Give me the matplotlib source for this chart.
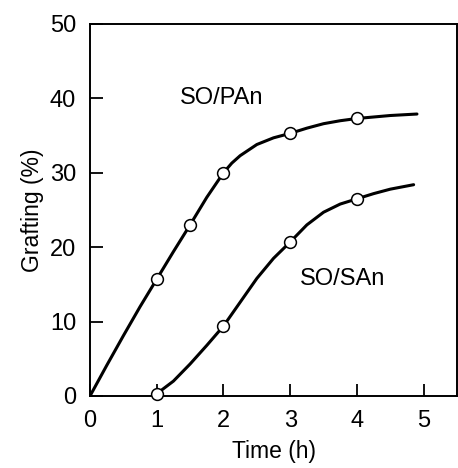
import matplotlib
matplotlib.use("Agg")
import matplotlib.pyplot as plt

plt.rcParams['font.family'] = ['Liberation Sans', 'DejaVu Sans']

# Measured points (markers)
pan_t = [1.0, 1.5, 2.0, 3.0, 4.0]
pan_g = [15.7, 23.0, 30.0, 35.3, 37.3]
san_t = [1.0, 2.0, 3.0, 4.0]
san_g = [0.3, 9.4, 20.7, 26.5]

# Drawn trend curves
pan_curve_t = [0.0, 0.25, 0.5, 0.75, 1.0, 1.25, 1.5, 1.75, 2.0, 2.125, 2.25, 2.5, 2.75,
               3.0, 3.25, 3.5, 3.75, 4.0, 4.25, 4.5, 4.9]
pan_curve_g = [0.0, 4.1, 8.1, 12.0, 15.7, 19.4, 23.0, 26.7, 30.0, 31.3, 32.3, 33.8, 34.7,
               35.3, 36.0, 36.6, 37.0, 37.3, 37.5, 37.7, 37.9]
san_curve_t = [1.0, 1.25, 1.5, 1.75, 2.0, 2.25, 2.5, 2.75, 3.0, 3.25, 3.5, 3.75,
               4.0, 4.25, 4.5, 4.85]
san_curve_g = [0.3, 2.0, 4.3, 6.8, 9.4, 12.6, 15.8, 18.5, 20.7, 23.0, 24.7, 25.8,
               26.5, 27.2, 27.8, 28.4]

xticks = [0, 1, 2, 3, 4, 5]
yticks = [0, 10, 20, 30, 40, 50]

fig = plt.figure(figsize=(4.58, 4.68), dpi=100)
ax = fig.add_axes([90/458, 1-396/468, (457-90)/458, (396-24)/468])

for t, g in [(pan_curve_t, pan_curve_g), (san_curve_t, san_curve_g)]:
    ax.plot(t, g, color='black', lw=2.2, solid_capstyle='round', solid_joinstyle='round', zorder=2)
for t, g in [(pan_t, pan_g), (san_t, san_g)]:
    ax.plot(t, g, linestyle='none', marker='o', markersize=8.5, markerfacecolor='white',
            markeredgecolor='black', markeredgewidth=1.1, zorder=3, clip_on=False)

ax.text(1.98, 40, 'SO/PAn', fontsize=17, ha='center', va='center')
ax.text(3.78, 15.7, 'SO/SAn', fontsize=17, ha='center', va='center')

ax.set_xlim(0, 5.5)
ax.set_ylim(0, 50)
ax.set_xticks(xticks)
ax.set_yticks(yticks)
ax.tick_params(direction='in', length=9, width=1.3, labelsize=17, pad=10,
               top=False, right=False)
for s in ax.spines.values():
    s.set_linewidth(1.4)

ax.set_xlabel('Time (h)', fontsize=16.5, labelpad=6)
ax.set_ylabel('Grafting (%)', fontsize=16.5, labelpad=4)

fig.savefig('out.png', dpi=100)
